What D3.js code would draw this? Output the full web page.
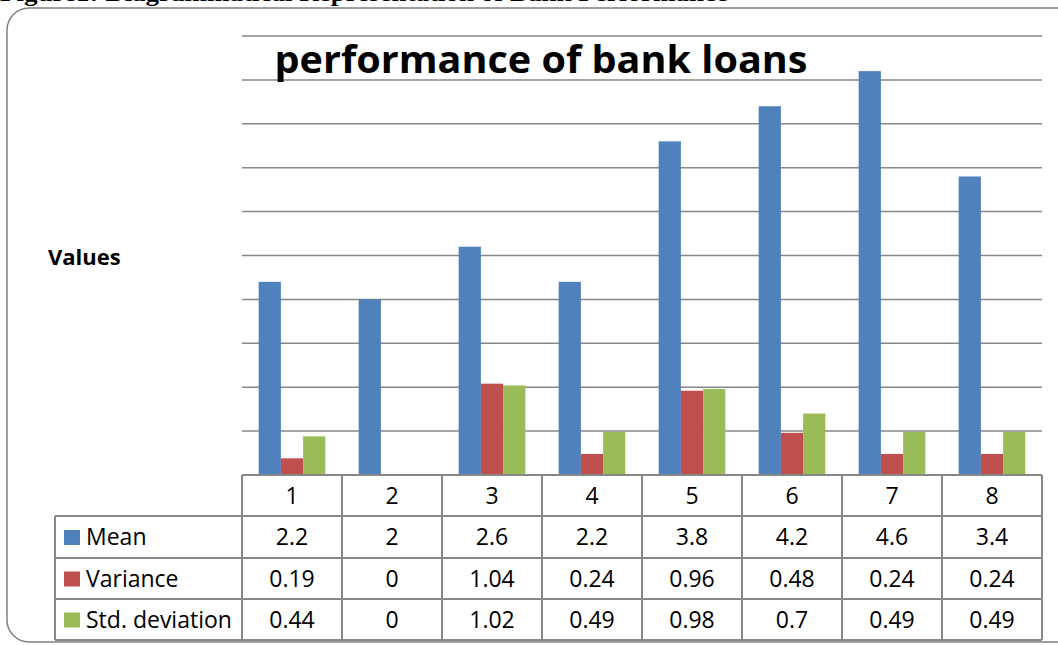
<!DOCTYPE html>
<meta charset="utf-8">
<html>
<head>
<style>
  body { margin: 0; background: #fff; }
  text.cell { font-family: "Open Sans", sans-serif; font-size: 23px; fill: #000; }
</style>
<script src="https://cdn.jsdelivr.net/npm/d3@7"></script>
</head>
<body>
<div id="chart"></div>
<script>
var categories = ["1", "2", "3", "4", "5", "6", "7", "8"];
var seriesNames = ["Mean", "Variance", "Std. deviation"];
var mean = [2.2, 2, 2.6, 2.2, 3.8, 4.2, 4.6, 3.4];
var variance = [0.19, 0, 1.04, 0.24, 0.96, 0.48, 0.24, 0.24];
var stdDev = [0.44, 0, 1.02, 0.49, 0.98, 0.7, 0.49, 0.49];
var yTicks = [0, 0.5, 1, 1.5, 2, 2.5, 3, 3.5, 4, 4.5, 5];
var colors = ["#4F81BD", "#C0504D", "#9BBB59"];

var series = [mean, variance, stdDev];
var W = 1058, H = 645;
var plot = { left: 242, right: 1042, top: 36, bottom: 475 };
var rowH = [41, 42, 41, 41]; // header + 3 rows

var svg = d3.select("#chart").append("svg")
    .attr("width", W).attr("height", H);

// figure caption, cut off at top as in the scan
svg.append("text")
    .attr("x", 0).attr("y", 1)
    .attr("textLength", 728).attr("lengthAdjust", "spacingAndGlyphs")
    .style("font-family", "'Liberation Serif', serif")
    .style("font-weight", "bold").style("font-size", "24px")
    .text("Figure1: Diagrammatical Representation of Bank Performance");

// outer rounded frame
svg.append("rect")
    .attr("x", 7).attr("y", 8).attr("width", 1080).attr("height", 634)
    .attr("rx", 22).attr("ry", 22)
    .style("fill", "none").style("stroke", "#808080").style("stroke-width", 1.5);

var x = d3.scaleBand().domain(categories).range([plot.left, plot.right]);
var x1 = d3.scaleBand().domain(d3.range(3)).range([0, x.bandwidth()])
    .paddingInner(0).paddingOuter(0.75);
var y = d3.scaleLinear().domain([0, 5]).range([plot.bottom, plot.top]);

// gridlines
svg.selectAll(".grid").data(yTicks.slice(1)).enter().append("line")
    .attr("x1", plot.left).attr("x2", plot.right)
    .attr("y1", function(d) { return y(d); }).attr("y2", function(d) { return y(d); })
    .style("stroke", "#878787").style("stroke-width", 1.5);

// bars
var groups = svg.selectAll(".grp").data(categories).enter().append("g")
    .attr("transform", function(d) { return "translate(" + x(d) + ",0)"; });
groups.selectAll("rect").data(function(d, i) {
        return series.map(function(s, k) { return { k: k, v: s[i] }; });
    }).enter().append("rect")
    .attr("x", function(d) { return x1(d.k); })
    .attr("width", x1.bandwidth())
    .attr("y", function(d) { return y(d.v); })
    .attr("height", function(d) { return y(0) - y(d.v); })
    .style("fill", function(d) { return colors[d.k]; });

// title
svg.append("text")
    .attr("x", 541).attr("y", 73)
    .attr("text-anchor", "middle")
    .attr("textLength", 533).attr("lengthAdjust", "spacingAndGlyphs")
    .style("font-family", "'Open Sans', sans-serif")
    .style("font-weight", "bold").style("font-size", "38px")
    .text("performance of bank loans");

// y label
svg.append("text")
    .attr("x", 48).attr("y", 265)
    .style("font-family", "'Open Sans', sans-serif")
    .style("font-weight", "bold").style("font-size", "22px")
    .text("Values");

// data table
var tableLeft = 55;
var rowTop = [plot.bottom];
rowH.forEach(function(h, i) { rowTop.push(rowTop[i] + h); });
var lineStyle = function(s) { return s.style("stroke", "#878787").style("stroke-width", 2); };

// horizontal lines
lineStyle(svg.append("line").attr("x1", plot.left).attr("x2", plot.right)
    .attr("y1", rowTop[0]).attr("y2", rowTop[0]));
rowTop.slice(1).forEach(function(t) {
    lineStyle(svg.append("line").attr("x1", tableLeft).attr("x2", plot.right)
        .attr("y1", t).attr("y2", t));
});
// vertical lines
lineStyle(svg.append("line").attr("x1", tableLeft).attr("x2", tableLeft)
    .attr("y1", rowTop[1]).attr("y2", rowTop[4]));
categories.concat(["end"]).forEach(function(c, i) {
    var xx = i < categories.length ? x(c) : plot.right;
    lineStyle(svg.append("line").attr("x1", xx).attr("x2", xx)
        .attr("y1", rowTop[0]).attr("y2", rowTop[4]));
});

// header
svg.selectAll(".hdr").data(categories).enter().append("text")
    .attr("class", "cell")
    .attr("x", function(d) { return x(d) + x.bandwidth() / 2; })
    .attr("y", (rowTop[0] + rowTop[1]) / 2 + 8)
    .attr("text-anchor", "middle")
    .text(function(d) { return d; });

// rows
series.forEach(function(s, k) {
    var cy = (rowTop[k + 1] + rowTop[k + 2]) / 2;
    svg.append("rect").attr("x", 64).attr("y", cy - 7).attr("width", 16).attr("height", 15)
        .style("fill", colors[k]);
    svg.append("text").attr("class", "cell")
        .attr("x", 86).attr("y", cy + 8).text(seriesNames[k]);
    svg.selectAll(".v" + k).data(s).enter().append("text")
        .attr("class", "cell")
        .attr("x", function(d, i) { return x(categories[i]) + x.bandwidth() / 2; })
        .attr("y", cy + 8)
        .attr("text-anchor", "middle")
        .text(function(d) { return d; });
});
</script>
</body>
</html>
